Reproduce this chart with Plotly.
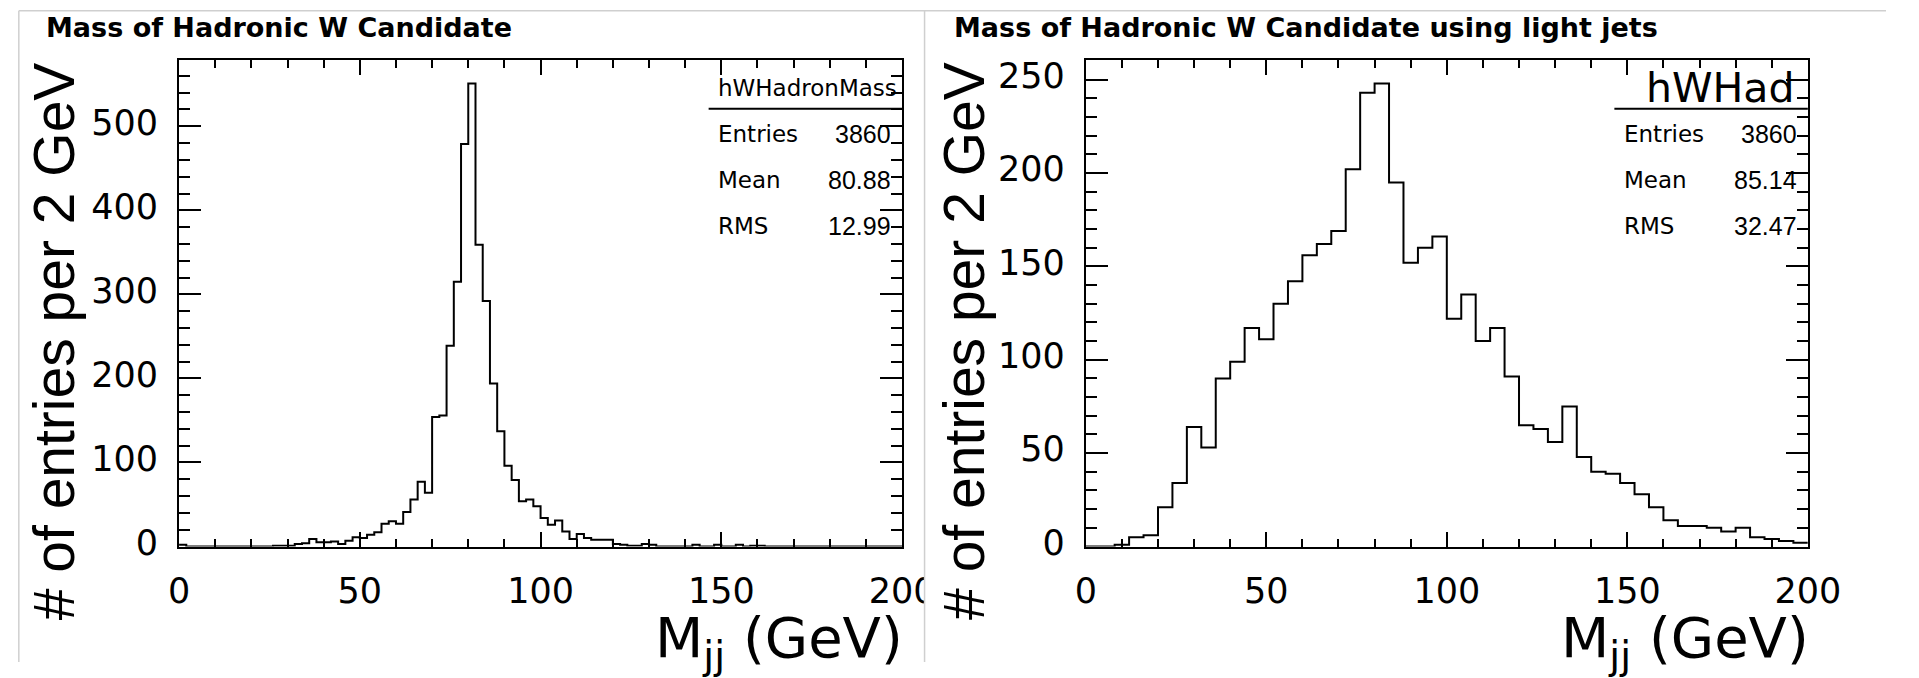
import plotly.graph_objects as go

# ---------------- data ----------------
# left: Mass of Hadronic W Candidate, 2 GeV bins from 0 to 200
left_bin_width = 2
left_counts = [
    2, 0, 0, 0, 0, 0, 0, 0, 0, 0,
    0, 0, 0, 1, 1, 1, 3, 4, 9, 5,
    5, 6, 3, 7, 11, 10, 14, 17, 27, 30,
    27, 41, 56, 77, 64, 154, 156, 239, 315, 479,
    551, 359, 292, 194, 137, 96, 79, 54, 56, 48,
    34, 26, 31, 18, 9, 15, 10, 8, 8, 8,
    3, 2, 1, 1, 3, 2, 0, 0, 0, 0,
    0, 2, 0, 0, 2, 0, 0, 2, 0, 1,
    1, 0, 0, 0, 0, 0, 0, 0, 0, 0,
    0, 0, 0, 0, 0, 0, 0, 0, 0, 0,
]
# right: using light jets, 4 GeV bins from 0 to 200
right_bin_width = 4
right_counts = [
    0, 0, 1, 5, 6, 21, 34, 64, 53, 90,
    99, 117, 111, 130, 142, 156, 162, 169, 202, 243,
    248, 195, 152, 160, 166, 122, 135, 110, 117, 91,
    65, 63, 56, 75, 48, 40, 39, 34, 28, 21,
    14, 11, 11, 10, 8, 10, 5, 4, 3, 2,
]
titles = ["Mass of Hadronic W Candidate", "Mass of Hadronic W Candidate using light jets"]
hist_names = ["hWHadronMass", "hWHad"]
stats_labels = ["Entries", "Mean", "RMS"]
stats_left = ["3860", "80.88", "12.99"]
stats_right = ["3860", "85.14", "32.47"]
x_ticks = [0, 50, 100, 150, 200]

W, H = 1919, 678
WIDE = "DejaVu Sans, Verdana, sans-serif"
HELV = "Liberation Sans, Arial, Helvetica, sans-serif"

def px(x):
    return x / W

def py(y):
    return 1 - y / H

# frame geometry (pixels)
L_X0, L_X1 = 172, 912
R_X0, R_X1 = 1100, 1839
Y_TOP, Y_BOT = 58, 559

def step_xy(counts, bw):
    xs = [i * bw for i in range(len(counts) + 1)]
    ys = list(counts) + [counts[-1]]
    return xs, ys

fig = go.Figure()
lx, ly = step_xy(left_counts, left_bin_width)
rx, ry = step_xy(right_counts, right_bin_width)
fig.add_trace(go.Scatter(x=lx, y=ly, mode="lines", line=dict(shape="hv", color="black", width=2),
                         xaxis="x", yaxis="y", showlegend=False, hoverinfo="skip"))
fig.add_trace(go.Scatter(x=rx, y=ry, mode="lines", line=dict(shape="hv", color="black", width=2),
                         xaxis="x2", yaxis="y2", showlegend=False, hoverinfo="skip"))

tickfont = dict(family=WIDE, size=35, color="black")

def xaxis(domain, anchor):
    return dict(domain=domain, anchor=anchor, range=[0, 200], tickmode="array", tickvals=x_ticks,
                showline=True, linecolor="black", linewidth=2, mirror="allticks",
                ticks="inside", ticklen=15, tickwidth=1.6, tickcolor="black",
                minor=dict(dtick=10, tick0=0, ticks="inside", ticklen=8, tickwidth=1.6, tickcolor="black"),
                showgrid=False, zeroline=False, tickfont=tickfont, fixedrange=True,
                ticklabelstandoff=12)

def yaxis(domain, anchor, rmax, dtick, mdtick):
    return dict(domain=domain, anchor=anchor, range=[0, rmax], dtick=dtick, tick0=0,
                showline=True, linecolor="black", linewidth=2, mirror="allticks",
                ticks="inside", ticklen=22, tickwidth=1.6, tickcolor="black",
                minor=dict(dtick=mdtick, tick0=0, ticks="inside", ticklen=11, tickwidth=1.6, tickcolor="black"),
                showgrid=False, zeroline=False, tickfont=tickfont, fixedrange=True,
                ticklabelstandoff=12, ticklabelshift=-4)

ydom = [py(Y_BOT), py(Y_TOP)]
fig.update_layout(
    width=W, height=H, margin=dict(l=0, r=0, t=0, b=0),
    paper_bgcolor="white", plot_bgcolor="white", showlegend=False,
    xaxis=xaxis([px(L_X0), px(L_X1)], "y"),
    yaxis=yaxis(ydom, "x", max(left_counts) * 1.05, 100, 20),
    xaxis2=xaxis([px(R_X0), px(R_X1)], "y2"),
    yaxis2=yaxis(ydom, "x2", max(right_counts) * 1.05, 50, 10),
)

ann = []
# titles
for t, x0 in zip(titles, [34, 963]):
    ann.append(dict(text=t, x=px(x0), y=py(42), xref="paper", yref="paper", xanchor="left", yanchor="bottom",
                    showarrow=False, font=dict(family=WIDE, size=27, color="black", weight="bold")))
# y-axis titles
for xc in [44, 976]:
    ann.append(dict(text="# of entries per 2 GeV", x=px(xc), y=py(58), xref="paper", yref="paper",
                    xanchor="center", yanchor="top", textangle=-90, showarrow=False,
                    font=dict(family=HELV, size=57, color="black")))
# x-axis titles
for xr in [L_X1, R_X1]:
    ann.append(dict(text="M<sub>jj</sub> (GeV)", x=px(xr + 3), y=py(617), xref="paper", yref="paper",
                    xanchor="right", yanchor="top", showarrow=False,
                    font=dict(family=WIDE, size=56, color="black")))
# stats boxes
row_y = [134, 181, 229]
for x1, name, vals, nsize in [(L_X1, hist_names[0], stats_left, 23), (R_X1, hist_names[1], stats_right, 41)]:
    x0 = x1 - 198
    ann.append(dict(text=name, x=px((x0 + x1) / 2 + (2 if nsize < 30 else 10)), y=py(87), xref="paper", yref="paper",
                    xanchor="center", yanchor="middle", showarrow=False,
                    font=dict(family=WIDE, size=nsize, color="black")))
    for lab, val, yy in zip(stats_labels, vals, row_y):
        ann.append(dict(text=lab, x=px(x0 + 8), y=py(yy), xref="paper", yref="paper",
                        xanchor="left", yanchor="middle", showarrow=False,
                        font=dict(family=WIDE, size=23, color="black")))
        ann.append(dict(text=val, x=px(x1 - 9), y=py(yy), xref="paper", yref="paper",
                        xanchor="right", yanchor="middle", showarrow=False,
                        font=dict(family=HELV, size=25, color="black")))
fig.update_layout(annotations=ann)

shapes = []
# clip of left panel's last tick label by the right pad
shapes.append(dict(type="rect", xref="paper", yref="paper", x0=px(935), x1=px(975), y0=py(640), y1=py(565),
                   fillcolor="white", line=dict(width=0), layer="above"))
# stats separator lines
for x1 in [L_X1, R_X1]:
    shapes.append(dict(type="line", xref="paper", yref="paper", x0=px(x1 - 198), x1=px(x1), y0=py(108), y1=py(108),
                       line=dict(color="black", width=2), layer="above"))
# pad borders
gray = "#cfcfcf"
shapes.append(dict(type="line", xref="paper", yref="paper", x0=px(8), x1=1, y0=py(7), y1=py(7), line=dict(color=gray, width=1.5)))
shapes.append(dict(type="line", xref="paper", yref="paper", x0=px(8), x1=px(8), y0=py(7), y1=0, line=dict(color=gray, width=1.5)))
shapes.append(dict(type="line", xref="paper", yref="paper", x0=px(935), x1=px(935), y0=py(7), y1=0, line=dict(color=gray, width=1.5)))
fig.update_layout(shapes=shapes)

fig.write_html("out.html")
